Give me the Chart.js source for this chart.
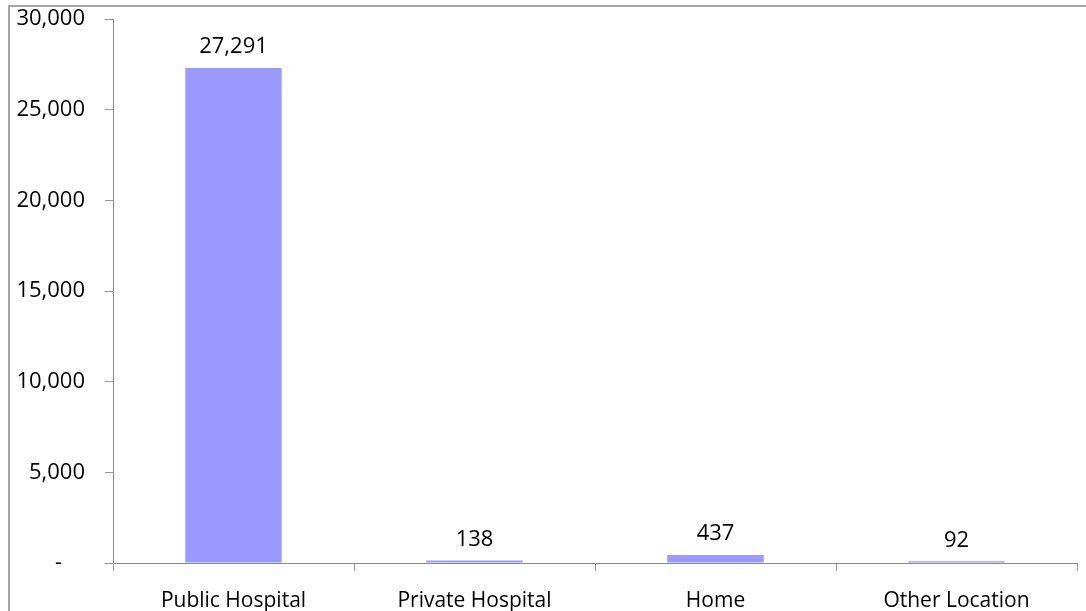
<!DOCTYPE html>
<html>
<head>
<meta charset="utf-8">
<script src="https://cdn.jsdelivr.net/npm/chart.js@4/dist/chart.umd.min.js"></script>
<style>
  html, body { margin: 0; padding: 0; background: #fff; overflow: hidden; }
  #wrap { position: relative; width: 1086px; height: 611px; }
  #frame { position: absolute; left: 8px; top: 5px; width: 1200px; height: 700px;
           border-left: 2px solid #a6a6a6; border-top: 2px solid #a6a6a6; }
  canvas { position: absolute; left: 0; top: 0; }
</style>
</head>
<body>
<div id="wrap">
  <div id="frame"></div>
  <canvas id="myChart" width="1086" height="611"></canvas>
</div>
<script>
// data
const categories = ['Public Hospital', 'Private Hospital', 'Home', 'Other Location'];
const counts = [27291, 138, 437, 92];
const yTicks = [0, 5000, 10000, 15000, 20000, 25000, 30000];

const FONT = '"Open Sans", sans-serif';

// draws the numbers above the bars
const barLabels = {
  id: 'barLabels',
  afterDatasetsDraw(chart) {
    const ctx = chart.ctx;
    ctx.save();
    ctx.font = '22px ' + FONT;
    ctx.fillStyle = '#000';
    ctx.textAlign = 'center';
    ctx.textBaseline = 'middle';
    chart.getDatasetMeta(0).data.forEach(function(bar, i) {
      ctx.fillText(counts[i].toLocaleString('en-US'), bar.x, bar.y - 21);
    });
    ctx.restore();
  }
};

new Chart(document.getElementById('myChart'), {
  type: 'bar',
  data: {
    labels: categories,
    datasets: [{
      data: counts,
      backgroundColor: '#9999ff',
      borderWidth: 0,
      barPercentage: 0.4,
      categoryPercentage: 1
    }]
  },
  options: {
    responsive: false,
    animation: false,
    layout: { padding: { left: 0, top: 5, right: 9, bottom: 0 } },
    plugins: { legend: { display: false }, tooltip: { enabled: false } },
    scales: {
      x: {
        afterFit: function(scale) { scale.height = 48; },
        grid: { drawOnChartArea: false, drawTicks: true, tickLength: 8, color: '#999', offset: true },
        border: { display: true, color: '#888', width: 1 },
        ticks: { color: '#000', font: { family: FONT, size: 21 }, padding: 17, maxRotation: 0 }
      },
      y: {
        min: 0,
        max: 30000,
        afterFit: function(scale) {
          scale.width = 113;
          scale.paddingTop = 19;
          scale.paddingBottom = 0;
        },
        afterBuildTicks: function(scale) {
          scale.ticks = yTicks.map(function(v) { return { value: v }; });
        },
        grid: { drawOnChartArea: false, drawTicks: true, tickLength: 8, color: '#999' },
        border: { display: true, color: '#888', width: 1 },
        ticks: {
          color: '#000',
          font: { family: FONT, size: 22 },
          padding: 20,
          callback: function(v) {
            return v === 0 ? '-\u00a0\u00a0\u00a0\u00a0' : v.toLocaleString('en-US');
          }
        }
      }
    }
  },
  plugins: [barLabels]
});
</script>
</body>
</html>
